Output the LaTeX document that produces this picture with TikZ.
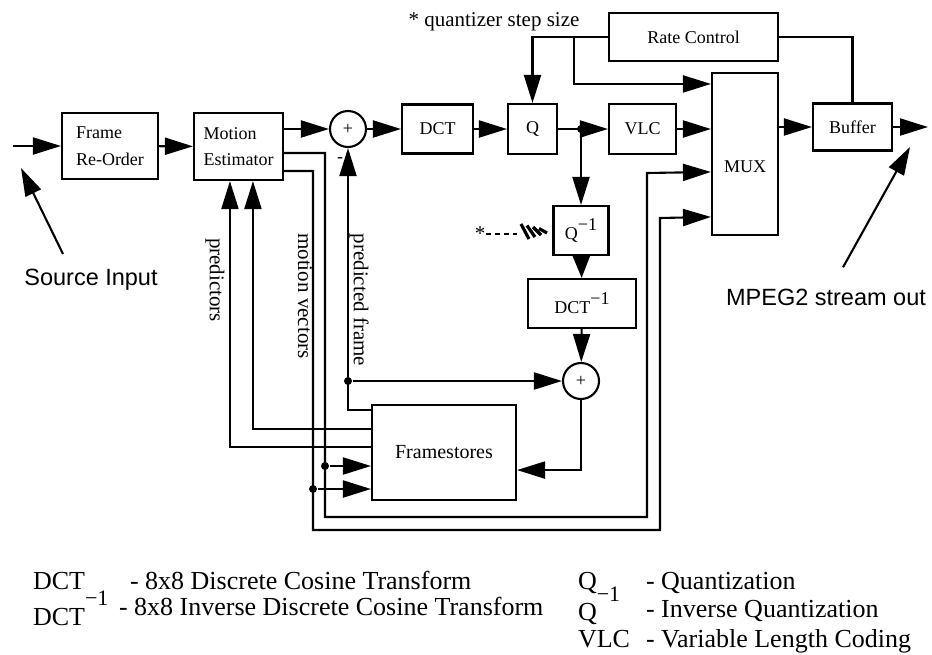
\documentclass[tikz,border=0pt]{standalone}
\usepackage{fontspec}
\setmainfont{Liberation Serif}
\newfontfamily\helvfont{Liberation Sans}
\usetikzlibrary{arrows.meta,positioning,calc}

\begin{document}
\begin{tikzpicture}[x=1pt,y=-1pt,line width=2.1pt,
  blk/.style={draw, line width=2.1pt, inner sep=0pt, font=\fontsize{18}{21}\selectfont},
  sum/.style={draw, circle, line width=2.1pt, minimum size=36pt, inner sep=0pt, font=\fontsize{18}{18}\selectfont},
  flow/.style={-{Triangle[length=28pt,width=17pt]}},
  sflow/.style={-{Triangle[length=22pt,width=17pt]}},
  dot/.style={circle, fill, inner sep=0pt, minimum size=8pt},
  tag/.style={font=\fontsize{21}{24}\selectfont},
  note/.style={font=\helvfont\fontsize{23.5}{26}\selectfont},
  leg/.style={anchor=base west, inner sep=0pt, font=\fontsize{26}{28}\selectfont}]
  \useasboundingbox (0,0) rectangle (932,654);

  % Blocks
  \node[blk, minimum width=96pt, minimum height=66pt, align=left, font=\fontsize{18}{27}\selectfont] (reorder) at (110,146) {Frame\\Re-Order};
  \node[blk, minimum width=89pt, minimum height=67pt, align=left, font=\fontsize{18}{26}\selectfont] (motion) at (238.5,146.5) {Motion\\Estimator};
  \node[sum] (sum1) at (348,129) {+};
  \node[blk, minimum width=71pt, minimum height=49pt] (dct) at (437.5,129) {DCT};
  \node[blk, minimum width=49pt, minimum height=50pt] (quant) at (532.5,129) {Q};
  \node[blk, minimum width=67pt, minimum height=50pt] (vlc) at (642.5,129) {VLC};
  \node[blk, minimum width=169pt, minimum height=48pt] (rate) at (693.5,37) {Rate Control};
  \node[blk, minimum width=66pt, minimum height=162pt,
        label={[font=\fontsize{18}{21}\selectfont, yshift=-13pt]center:MUX}] (mux) at (745,154) {};
  \node[blk, minimum width=79pt, minimum height=47pt] (buffer) at (852.5,127) {Buffer};
  \node[blk, minimum width=55pt, minimum height=49pt] (iquant) at (581,230.5) {Q\raisebox{1.1ex}{\fontsize{18}{18}\selectfont −1}};
  \node[blk, minimum width=108pt, minimum height=49pt] (idct) at (582,303.5) {DCT\raisebox{1.1ex}{\fontsize{18}{18}\selectfont −1}};
  \node[sum] (sum2) at (581,381) {+};
  \node[blk, minimum width=144pt, minimum height=95pt, font=\fontsize{20}{24}\selectfont] (store) at (444,452.5) {Framestores};

  % Free ends and taps
  \coordinate (src) at (13,146);
  \coordinate (out) at (928,127);
  \coordinate (qtap) at (574,37);
  \coordinate (mvA) at (325,153);
  \coordinate (mvB) at (313,171);
  \node[dot] (split) at (581,129) {};
  \node[dot] (tapA) at (325,466) {};
  \node[dot] (tapB) at (313,489) {};
  \node[dot] (tapP) at (348,381) {};

  % Forward path
  \draw[flow] (src) -- (reorder);
  \draw[flow] (reorder) -- (motion);
  \draw[flow] (motion.east |- sum1) -- (sum1);
  \draw[flow] (sum1) -- (dct);
  \draw[flow] (dct) -- (quant);
  \draw[flow] (quant) -- (vlc);
  \draw[flow] (vlc) -- (vlc -| mux.west);
  \draw[flow] (mux.east |- buffer) -- (buffer);
  \draw[flow] (buffer) -- (out);

  % Rate control
  \draw[flow] (rate.west) -| (quant.north);
  \draw[flow] (qtap) |- ($(mux.north west)+(0,12)$);
  \draw (rate.east) -| (buffer.north);

  % Local decoder
  \draw[flow] (split) -- (iquant);
  \draw[sflow] (iquant) -- (idct);
  \draw[flow] (idct) -- (sum2);
  \draw[flow] (tapP) -- (sum2);
  \draw[flow] (sum2.south) |- ($(store.south east)+(0,-31)$);
  \draw[flow] ($(store.north west)+(0,6)$) -| (sum1.south);

  % Motion vectors to MUX and Framestores
  \draw[flow] (motion.east |- mvA) -- (mvA) -- (325,517) -- (647,517) -- (647,173) -- ($(mux.north west)+(0,100)$);
  \draw[flow] (motion.east |- mvB) -- (mvB) -- (313,530) -- (660,530) -- (660,218) -- ($(mux.north west)+(0,145)$);
  \draw[flow] (tapA) -- (tapA -| store.west);
  \draw[flow] (tapB) -- (tapB -| store.west);

  % Predictors back to the estimator
  \draw[flow] ($(store.north west)+(0,25)$) -| ($(motion.south west)+(60,0)$);
  \draw[flow] ($(store.north west)+(0,43)$) -| ($(motion.south west)+(37,0)$);

  % Side labels
  \node[tag, rotate=-90] (lpred) at (215,280) {predictors};
  \node[tag, rotate=-90] (lmv) at (305,296) {motion vectors};
  \node[tag, rotate=-90] (lpf) at (359,300) {predicted frame};
  \node[font=\fontsize{18}{18}\selectfont] (minus) at (340,160) {-};
  \node[tag] (stepsize) at (494,22) {* quantizer step size};

  % Step size hint for the inverse quantizer
  \node[tag, inner sep=0pt] (star) at (480,234) {*};
  \draw[line width=1.6pt, dash pattern=on 5pt off 4pt] (star.east) -- (517,234);
  \foreach \i in {0,...,3}
    \draw[line width=3.2pt] (521+6*\i, 224+1.5*\i) -- (529+6*\i, 239-2*\i);

  % Input and output notes
  \node[note] (srclbl) at (91,280) {Source Input};
  \coordinate (srcTip) at (21,168);
  \draw[flow] ($(srclbl.north)+(-28,-11)$) -- (srcTip);
  \node[note] (outlbl) at (826,297) {MPEG2 stream out};
  \coordinate (outTip) at (910,147);
  \draw[flow] ($(outlbl.north)+(17,-17)$) -- (outTip);

  % Legend
  \node[leg] (k1) at (32,589) {DCT};
  \node[leg] (d1) at (129,589) {- 8x8 Discrete Cosine Transform};
  \node[leg] (k2) at (32,625) {DCT\raisebox{20pt}{\fontsize{22}{22}\selectfont −1}};
  \node[leg] (d2) at (118,615) {- 8x8 Inverse Discrete Cosine Transform};
  \node[leg] (k3) at (577,589) {Q};
  \node[leg] (d3) at (645,589) {- Quantization};
  \node[leg] (k4) at (577,620) {Q\raisebox{19pt}{\fontsize{22}{22}\selectfont −1}};
  \node[leg] (d4) at (645,617) {- Inverse Quantization};
  \node[leg] (k5) at (577,647) {VLC};
  \node[leg] (d5) at (645,647) {- Variable Length Coding};
\end{tikzpicture}
\end{document}
